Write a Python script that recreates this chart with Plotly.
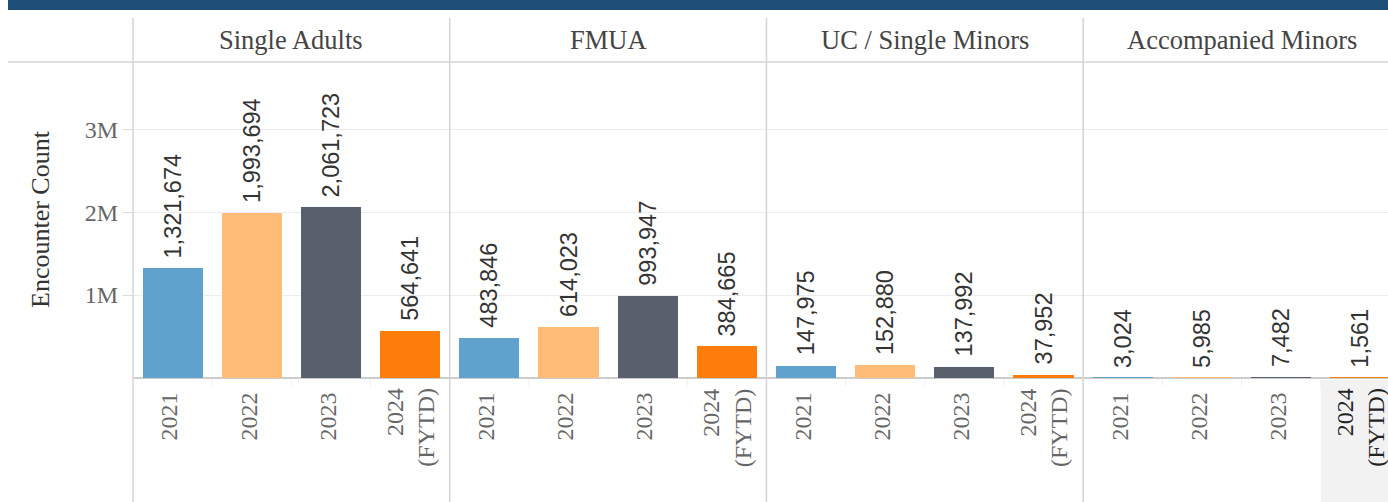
import plotly.graph_objects as go

# ---------------- data ----------------
groups = ["Single Adults", "FMUA", "UC / Single Minors", "Accompanied Minors"]
years = ["2021", "2022", "2023", "2024 (FYTD)"]
year_tick_labels = ["2021", "2022", "2023", "2024<br>(FYTD)"]
single_adults = [1321674, 1993694, 2061723, 564641]
fmua = [483846, 614023, 993947, 384665]
uc_single_minors = [147975, 152880, 137992, 37952]
accompanied_minors = [3024, 5985, 7482, 1561]
year_colors = ["#5fa2ce", "#ffbc79", "#57606c", "#fc7d0b"]
y_tick_vals = [1_000_000, 2_000_000, 3_000_000]
y_tick_text = ["1M", "2M", "3M"]

series = [single_adults, fmua, uc_single_minors, accompanied_minors]

# ---------------- layout geometry ----------------
W, H = 1388, 502
ML, MR, MT, MB = 133, 0, 62, 124
PW, PH = W - ML - MR, H - MT - MB
XMIN, XMAX = -0.5, 15.35
YMAX = 3_810_000

def px_x(x):      # pixel x -> paper
    return (x - ML) / PW

def px_y(y):      # pixel y (from top) -> paper
    return (H - MB - y) / PH

def dx_paper(d):  # data x -> paper
    return (d - XMIN) / (XMAX - XMIN)

SERIF = "Liberation Serif, Times New Roman, serif"
SANS = "Liberation Sans, Arial, sans-serif"

fig = go.Figure()
ncat = len(years)
ntot = len(groups) * ncat
for yi, (yr, col) in enumerate(zip(years, year_colors)):
    xs = [gi * ncat + yi for gi in range(len(groups))]
    ys = [s[yi] for s in series]
    fig.add_trace(go.Bar(
        x=xs, y=ys, name=yr, marker=dict(color=col, line=dict(width=0)),
        width=0.76, showlegend=False, hoverinfo="y",
    ))

annotations = []
# value labels
for gi, s in enumerate(series):
    for yi, v in enumerate(s):
        annotations.append(dict(
            x=gi * ncat + yi, y=v, xref="x", yref="y",
            text=f"{v:,}", textangle=-90, showarrow=False,
            xanchor="center", yanchor="bottom", yshift=8,
            font=dict(family=SANS, size=23.5, color="#333333"),
        ))
# panel headers
for gi, g in enumerate(groups):
    annotations.append(dict(
        x=gi * ncat + (ncat - 1) / 2, y=px_y(40), xref="x", yref="paper",
        text=g, showarrow=False, xanchor="center", yanchor="middle",
        font=dict(family=SERIF, size=26.5, color="#444444"),
    ))
# two-line category labels (centered on the category)
for gi in range(len(groups)):
    idx = gi * ncat + ncat - 1
    last = idx == ntot - 1
    annotations.append(dict(
        x=dx_paper(idx), y=px_y(386), xref="paper", yref="paper",
        text=year_tick_labels[-1], textangle=-90, showarrow=False,
        xanchor="center", yanchor="top", align="right",
        font=dict(family=SERIF, size=24, color="#222222" if last else "#666666"),
    ))
# y axis title
annotations.append(dict(
    x=px_x(40), y=px_y(219), xref="paper", yref="paper",
    text="Encounter Count", textangle=-90, showarrow=False,
    xanchor="center", yanchor="middle",
    font=dict(family=SERIF, size=26, color="#333333"),
))

shapes = []
# highlighted last column label background
shapes.append(dict(
    type="rect", xref="paper", yref="paper",
    x0=dx_paper(ntot - 1.5), x1=1.0,
    y0=px_y(380), y1=px_y(H), fillcolor="#f2f2f2", line=dict(width=0), layer="below",
))
# top dark band
shapes.append(dict(
    type="rect", xref="paper", yref="paper",
    x0=px_x(8), x1=1.0, y0=px_y(10), y1=px_y(0),
    fillcolor="#1f4e79", line=dict(width=0),
))
# header bottom line
shapes.append(dict(
    type="line", xref="paper", yref="paper",
    x0=px_x(8), x1=1.0, y0=1.0, y1=1.0,
    line=dict(color="#d4d4d4", width=1.5),
))
# panel separators (incl. left edge)
for gi in range(len(groups)):
    xb = 0.0 if gi == 0 else dx_paper(gi * ncat - 0.5)
    shapes.append(dict(
        type="line", xref="paper", yref="paper",
        x0=xb, x1=xb, y0=px_y(18), y1=px_y(H),
        line=dict(color="#d4d4d4", width=1.5),
    ))
# faint ticks between categories
for gi in range(len(groups)):
    for k in range(1, ncat):
        xb = dx_paper(gi * ncat + k - 0.5)
        shapes.append(dict(
            type="line", xref="paper", yref="paper",
            x0=xb, x1=xb, y0=px_y(379), y1=px_y(386),
            line=dict(color="#f0f0f0", width=1),
        ))

single_ticks = [t if "<br>" not in t else "" for t in year_tick_labels]

fig.update_layout(
    width=W, height=H, autosize=False,
    margin=dict(l=ML, r=MR, t=MT, b=MB, pad=0),
    paper_bgcolor="white", plot_bgcolor="white",
    barmode="overlay", bargap=0,
    annotations=annotations, shapes=shapes,
    xaxis=dict(
        range=[XMIN, XMAX], tickmode="array",
        tickvals=list(range(ntot)),
        ticktext=single_ticks * len(groups),
        tickangle=-90, showgrid=False, zeroline=False, showline=False,
        ticks="outside", ticklen=4, tickcolor="rgba(0,0,0,0)",
        ticklabelshift=-3,
        tickfont=dict(family=SERIF, size=24, color="#666666"),
        fixedrange=True,
    ),
    yaxis=dict(
        range=[0, YMAX], tickmode="array", tickvals=y_tick_vals, ticktext=y_tick_text,
        showgrid=True, gridcolor="#ececec", gridwidth=1,
        zeroline=True, zerolinecolor="#cccccc", zerolinewidth=1.5,
        ticks="outside", ticklen=9, tickcolor="#dddddd",
        showline=False,
        tickfont=dict(family=SERIF, size=24, color="#666666"),
        fixedrange=True,
    ),
)

fig.write_html(
    "out.html",
    config={"displayModeBar": False},
    post_script="document.body.style.margin='0';document.body.style.overflow='hidden';",
)
